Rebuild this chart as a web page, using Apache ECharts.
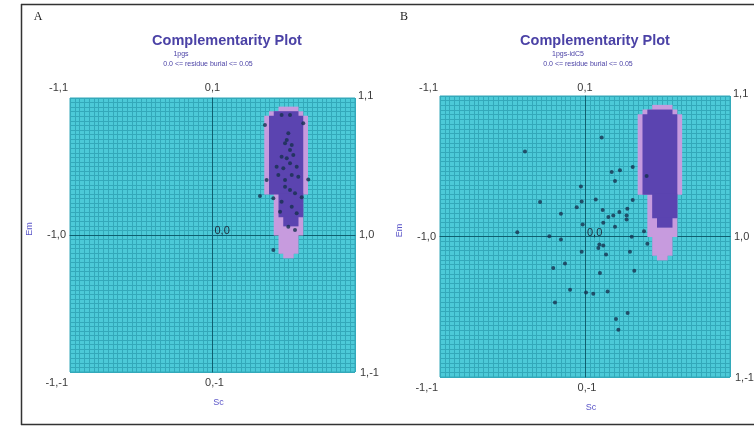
<!DOCTYPE html>
<html>
<head>
<meta charset="utf-8">
<title>Complementarity Plot</title>
<style>
  html, body { margin: 0; padding: 0; background: #fff; }
  #main { width: 754px; height: 427px; }
</style>
</head>
<body>
<div id="main"></div>
<script src="https://cdn.jsdelivr.net/npm/echarts@6/dist/echarts.min.js"></script>
<script>
    // grid cells: 60 x 60, each 1/30 of a unit, rows/cols counted from (-1,-1)
    var CELLS = 30;

    // region spans: [rowFrom, rowTo, colFrom, colTo]
    var pinkSpans = [
        [57, 57, 44, 47],
        [56, 56, 42, 48],
        [39, 55, 41, 49],
        [30, 38, 43, 48],
        [26, 29, 44, 47],
        [25, 25, 45, 46]
    ];
    var purpleSpans = [
        [56, 56, 43, 47],
        [39, 55, 42, 48],
        [34, 38, 44, 48],
        [32, 33, 45, 47]
    ];

    // residues of 1pgs (panel A)
    var dotsA = [
        [0.485, 0.876], [0.544, 0.876], [0.368, 0.803], [0.637, 0.815], [0.532, 0.742],
        [0.509, 0.669], [0.544, 0.620], [0.567, 0.584], [0.521, 0.560], [0.544, 0.523],
        [0.497, 0.487], [0.591, 0.499], [0.462, 0.438], [0.556, 0.438], [0.380, 0.401],
        [0.672, 0.406], [0.509, 0.401], [0.333, 0.285], [0.427, 0.268], [0.626, 0.275],
        [0.485, 0.243], [0.544, 0.328], [0.579, 0.304], [0.591, 0.158], [0.532, 0.061],
        [0.579, 0.036], [0.427, -0.109], [0.521, 0.693], [0.556, 0.657], [0.485, 0.572],
        [0.450, 0.499], [0.602, 0.426], [0.509, 0.353], [0.474, 0.170], [0.556, 0.207]
    ];

    // residues of 1pgs-idC5 (panel B)
    var dotsB = [
        [0.115, 0.705], [-0.414, 0.605], [0.184, 0.459], [0.241, 0.471], [0.329, 0.495],
        [0.207, 0.395], [0.425, 0.431], [-0.028, 0.355], [-0.310, 0.245], [-0.023, 0.250],
        [0.074, 0.264], [0.329, 0.259], [-0.057, 0.209], [-0.166, 0.162], [0.122, 0.188],
        [0.237, 0.174], [0.292, 0.198], [0.161, 0.138], [0.195, 0.150], [0.287, 0.150],
        [0.287, 0.121], [-0.016, 0.086], [0.126, 0.098], [0.207, 0.069], [-0.467, 0.031],
        [-0.246, 0.002], [-0.166, -0.021], [0.322, -0.002], [0.407, 0.038], [0.430, -0.052],
        [0.099, -0.057], [0.126, -0.064], [0.092, -0.081], [0.145, -0.129], [-0.023, -0.109],
        [0.310, -0.109], [-0.138, -0.193], [-0.219, -0.224], [0.340, -0.243], [0.103, -0.259],
        [-0.103, -0.379], [0.007, -0.398], [0.057, -0.407], [0.156, -0.391], [-0.207, -0.469],
        [0.294, -0.545], [0.214, -0.588], [0.230, -0.664]
    ];

    var titles = ['Complementarity Plot', 'Complementarity Plot'];
    var subtitles = ['1pgs', '1pgs-idC5'];
    var burialText = '0.0 <= residue burial <= 0.05';
    var cornerTop = ['-1,1', '0,1', '1,1'];
    var cornerMid = ['-1,0', '0,0', '1,0'];
    var cornerBottom = ['-1,-1', '0,-1', '1,-1'];

    var CYAN = '#4ccad8', LINE = '#33a9ba', AXIS = '#0f5f70';
    var PINK = '#c79bde', PURPLE = '#5b44b0', DOT = '#17314f';
    var LABEL = '#3a3a3a', BLUE = '#4b42a6';

    // turn span lists into rectangles in data units
    function spanRects(spans) {
        return spans.map(function (s) {
            return [-1 + s[2] / CELLS, -1 + s[0] / CELLS, -1 + (s[3] + 1) / CELLS, -1 + (s[1] + 1) / CELLS];
        });
    }

    function renderCell(params, api) {
        var p0 = api.coord([api.value(0), api.value(3)]);
        var p1 = api.coord([api.value(2), api.value(1)]);
        return {
            type: 'rect',
            shape: { x: p0[0] - 0.5, y: p0[1] - 0.5, width: p1[0] - p0[0] + 1, height: p1[1] - p0[1] + 1 },
            style: { fill: api.visual('color') }
        };
    }

    var grids = [
        { left: 70, top: 98, width: 285, height: 274 },
        { left: 440, top: 96, width: 290, height: 281 }
    ];

    function axis(idx) {
        return {
            type: 'value', gridIndex: idx, min: -1, max: 1, interval: 1 / CELLS,
            axisLine: { show: true, onZero: true, lineStyle: { color: AXIS, width: 1 } },
            axisTick: { show: false }, axisLabel: { show: false },
            splitLine: { show: true, lineStyle: { color: LINE, width: 1 } }
        };
    }

    var series = [];
    [dotsA, dotsB].forEach(function (dots, i) {
        series.push({
            type: 'custom', xAxisIndex: i, yAxisIndex: i, renderItem: renderCell,
            itemStyle: { color: PINK }, data: spanRects(pinkSpans), silent: true
        });
        series.push({
            type: 'custom', xAxisIndex: i, yAxisIndex: i, renderItem: renderCell,
            itemStyle: { color: PURPLE }, data: spanRects(purpleSpans), silent: true
        });
        series.push({
            type: 'scatter', xAxisIndex: i, yAxisIndex: i, symbolSize: 4,
            itemStyle: { color: DOT }, data: dots, z: 5
        });
    });

    function txt(x, y, s, opt) {
        opt = opt || {};
        return {
            type: 'text', x: x, y: y, rotation: opt.rotation || 0, z: 10,
            style: {
                text: s, fill: opt.color || LABEL,
                font: (opt.weight || 'normal') + ' ' + (opt.size || 11) + 'px ' + (opt.family || '"Liberation Sans", Arial, sans-serif'),
                align: opt.align || 'center', verticalAlign: 'middle'
            }
        };
    }

    var g = [];
    // frame
    g.push({ type: 'line', shape: { x1: 21.5, y1: 4, x2: 21.5, y2: 425 }, style: { stroke: '#333', lineWidth: 1.5 } });
    g.push({ type: 'line', shape: { x1: 21, y1: 4.5, x2: 754, y2: 4.5 }, style: { stroke: '#333', lineWidth: 1.5 } });
    g.push({ type: 'line', shape: { x1: 21, y1: 424.5, x2: 754, y2: 424.5 }, style: { stroke: '#333', lineWidth: 1.5 } });

    // panel letters
    g.push(txt(38, 17, 'A', { size: 12, family: '"Liberation Serif", serif', color: '#222' }));
    g.push(txt(404, 17, 'B', { size: 12, family: '"Liberation Serif", serif', color: '#222' }));

    var head = [
        { t: 227, s1: 181, s2: 208 },
        { t: 595, s1: 568, s2: 588 }
    ];
    grids.forEach(function (gr, i) {
        var l = gr.left, r = gr.left + gr.width, t = gr.top, b = gr.top + gr.height;
        var cx = l + gr.width / 2, cy = t + gr.height / 2;
        g.push(txt(head[i].t, 41, titles[i], { size: 14.5, weight: 'bold', color: BLUE }));
        g.push(txt(head[i].s1, 54, subtitles[i], { size: 7, color: BLUE }));
        g.push(txt(head[i].s2, 64, burialText, { size: 7, color: BLUE }));

        g.push(txt(l - 2, 88, cornerTop[0], { align: 'right' }));
        g.push(txt(cx, 88, cornerTop[1]));
        g.push(txt(r + 3, t - 2, cornerTop[2], { align: 'left' }));

        g.push(txt(l - 4, cy, cornerMid[0], { align: 'right' }));
        g.push(txt(cx + 2, cy - 4, cornerMid[1], { align: 'left', color: '#1d2a3a' }));
        g.push(txt(r + 4, cy, cornerMid[2], { align: 'left' }));

        g.push(txt(l - 2, b + 11, cornerBottom[0], { align: 'right' }));
        g.push(txt(cx + 2, b + 11, cornerBottom[1]));
        g.push(txt(r + 5, b + 1, cornerBottom[2], { align: 'left' }));

        g.push(txt(cx + 6, b + 31, 'Sc', { size: 9, color: '#5a55c8' }));
        g.push(txt(l - 40, cy - 6, 'Em', { size: 9, color: '#5a55c8', rotation: Math.PI / 2 }));
    });

    var myChart = echarts.init(document.getElementById('main'));
    var option = {
        animation: false,
        grid: grids.map(function (gr) {
            return Object.assign({ show: true, backgroundColor: CYAN, borderColor: LINE, borderWidth: 1 }, gr);
        }),
        xAxis: [axis(0), axis(1)],
        yAxis: [axis(0), axis(1)],
        series: series,
        graphic: g
    };
    myChart.setOption(option);
</script>
</body>
</html>
